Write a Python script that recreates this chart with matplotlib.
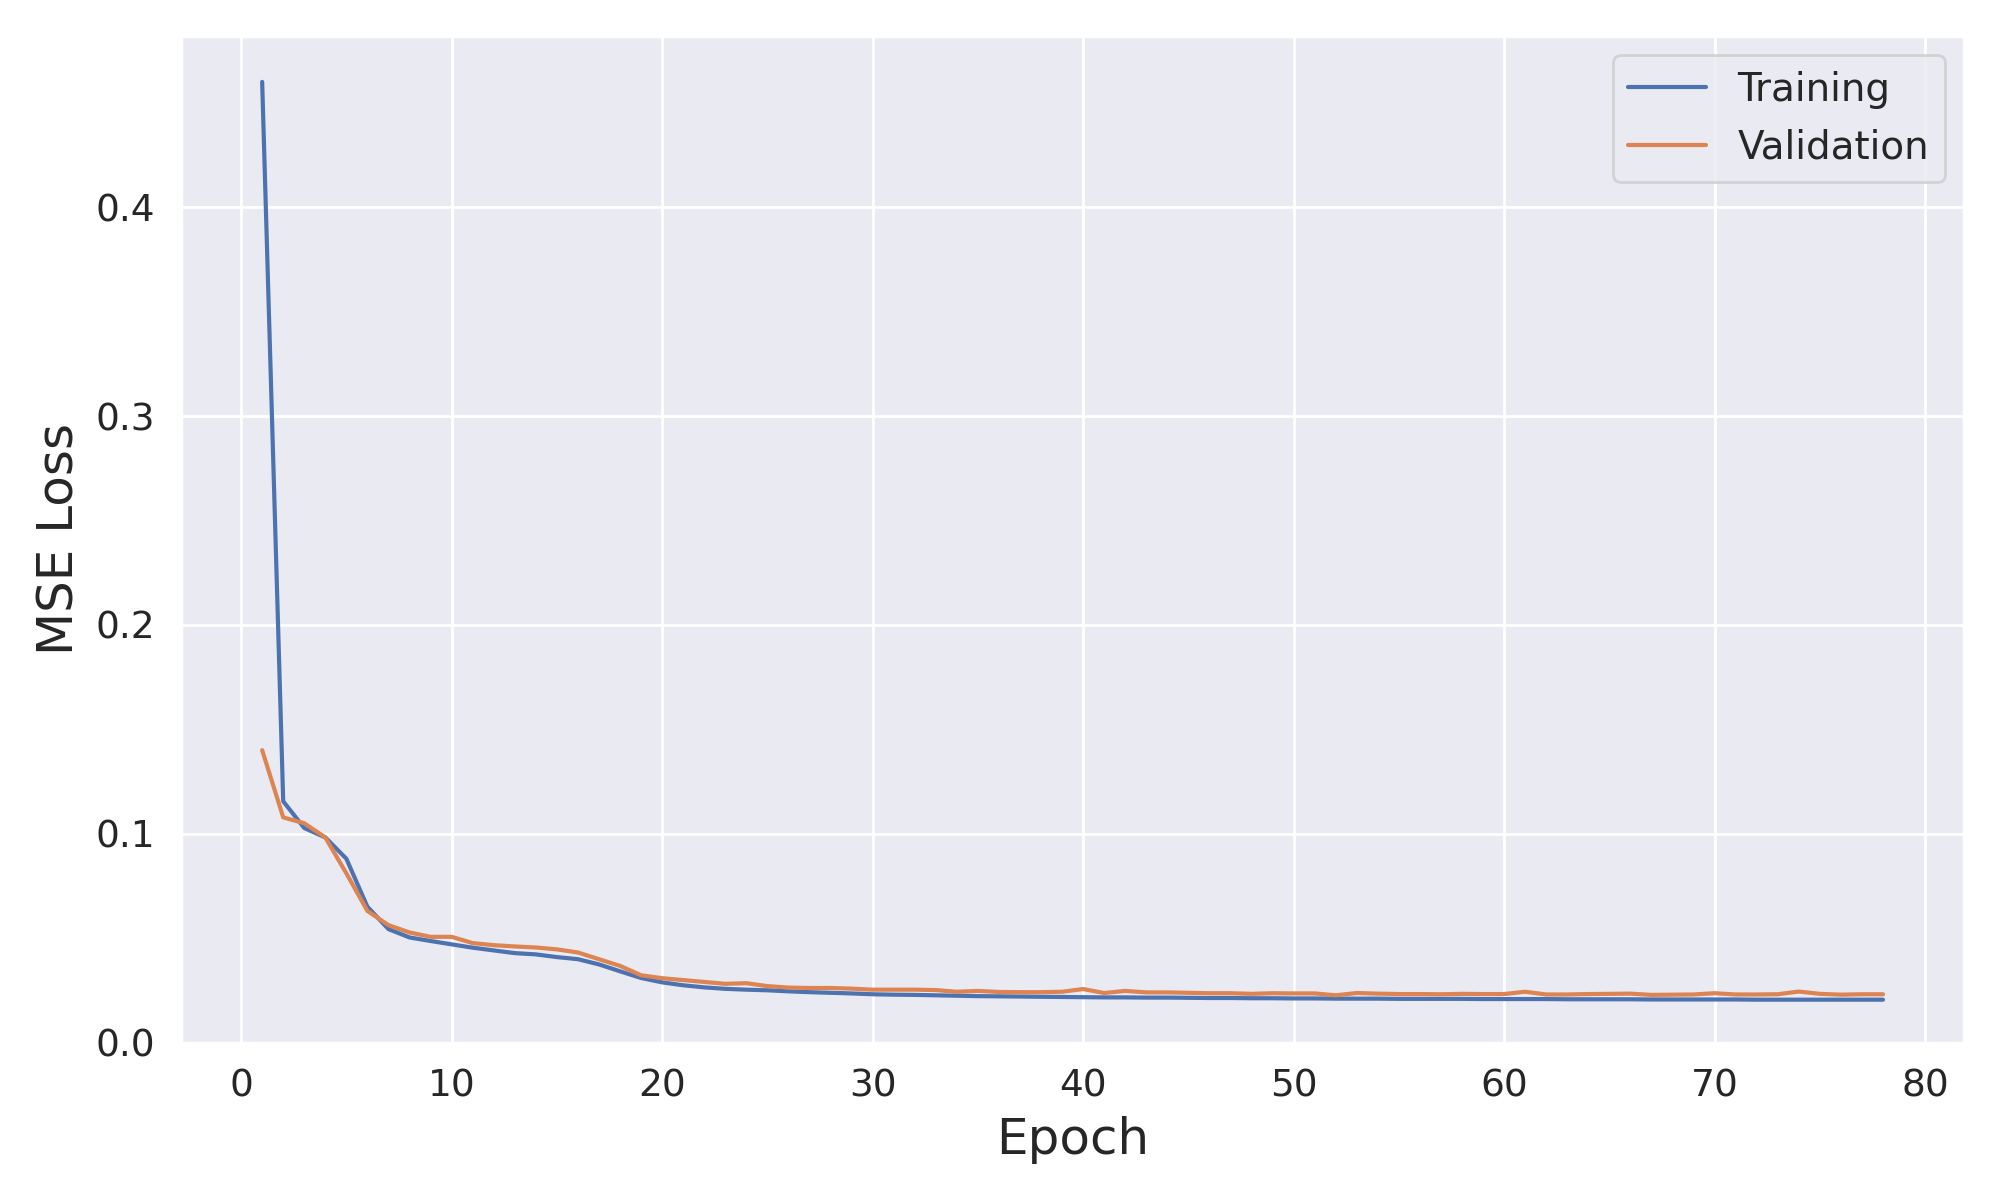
import matplotlib
matplotlib.use("Agg")
import matplotlib.pyplot as plt
import seaborn as sns
import numpy as np

sns.set_theme(style="darkgrid")

# loss history
epochs = np.arange(1, 79)

train_loss = [
    0.460, 0.1155, 0.1027, 0.0982, 0.0880, 0.0650, 0.0543, 0.0503, 0.0486, 0.0470,
    0.0454, 0.0441, 0.0428, 0.0422, 0.0409, 0.0399, 0.0374, 0.0341, 0.0309, 0.0288,
    0.0274, 0.0264, 0.0257, 0.0253, 0.0250, 0.0245, 0.0241, 0.0238, 0.0235, 0.0231,
    0.0229, 0.0228, 0.0226, 0.0224, 0.0222, 0.0221, 0.0220, 0.0219, 0.0218, 0.0217,
    0.0216, 0.0216, 0.0215, 0.0215, 0.0214, 0.0213, 0.0213, 0.0212, 0.0212, 0.0211,
    0.0211, 0.0210, 0.0210, 0.0210, 0.0209, 0.0209, 0.0209, 0.0209, 0.0208, 0.0208,
    0.0208, 0.0208, 0.0207, 0.0207, 0.0207, 0.0207, 0.0206, 0.0206, 0.0206, 0.0206,
    0.0206, 0.0205, 0.0205, 0.0205, 0.0205, 0.0205, 0.0205, 0.0205,
]

val_loss = [
    0.140, 0.1078, 0.1050, 0.0982, 0.0810, 0.0630, 0.0562, 0.0527, 0.0506, 0.0506,
    0.0476, 0.0466, 0.0460, 0.0455, 0.0446, 0.0431, 0.0399, 0.0367, 0.0322, 0.0308,
    0.0299, 0.0290, 0.0281, 0.0284, 0.0270, 0.0263, 0.0261, 0.0261, 0.0258, 0.0253,
    0.0253, 0.0253, 0.0251, 0.0243, 0.0247, 0.0242, 0.0241, 0.0241, 0.0243, 0.0256,
    0.0237, 0.0247, 0.0240, 0.0240, 0.0238, 0.0236, 0.0236, 0.0233, 0.0236, 0.0235,
    0.0235, 0.0226, 0.0237, 0.0234, 0.0232, 0.0232, 0.0231, 0.0233, 0.0232, 0.0232,
    0.0243, 0.0230, 0.0230, 0.0232, 0.0233, 0.0234, 0.0228, 0.0229, 0.0230, 0.0236,
    0.0230, 0.0230, 0.0231, 0.0244, 0.0233, 0.0229, 0.0231, 0.0231,
]

fig, ax = plt.subplots(figsize=(10, 6), dpi=200)
ax.plot(epochs, train_loss, label="Training")
ax.plot(epochs, val_loss, label="Validation")
ax.set_ylim(0, None)
ax.set_xlabel("Epoch", fontsize=18)
ax.set_ylabel("MSE Loss", fontsize=18)
ax.tick_params(labelsize=13.5)
ax.legend(fontsize=14)
plt.tight_layout()
plt.savefig("out.png")
